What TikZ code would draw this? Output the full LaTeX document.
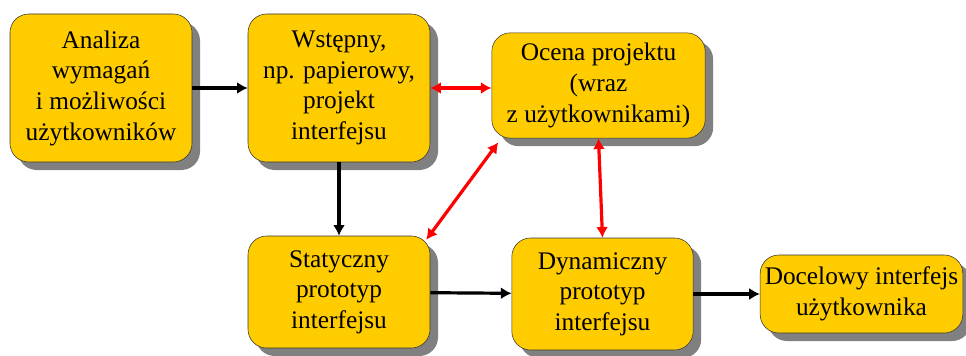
\documentclass[tikz,border=0pt]{standalone}
\usepackage{fontspec}
\setmainfont{Liberation Serif}
\newfontfamily\boxfont{Liberation Serif}
\usetikzlibrary{arrows.meta,shadows}
\definecolor{boxyellow}{RGB}{255,204,0}
\tikzset{
  box/.style={draw=black!80, fill=boxyellow, rounded corners=14pt, align=center,
    inner sep=0pt, font=\boxfont\fontsize{19}{23}\selectfont,
    drop shadow={shadow xshift=6pt, shadow yshift=-6pt, fill=black!50, opacity=1}},
  flow/.style={-{Latex[length=8pt,width=9pt]}, line width=2.4pt, black},
  talk/.style={{Latex[length=8pt,width=9pt]}-{Latex[length=8pt,width=9pt]}, line width=2.4pt, red},
}

\begin{document}
\begin{tikzpicture}[x=0.75pt,y=-0.75pt]
\useasboundingbox (0,0) rectangle (966,356);
\node[box, minimum width=136.5pt, minimum height=111pt] (B1) at (101,88)
  {Analiza\\wymagań\\i możliwości\\użytkowników};
\node[box, minimum width=136.5pt, minimum height=111pt] (B2) at (339,88)
  {Wstępny,\\np. papierowy,\\projekt\\interfejsu};
\node[box, minimum width=160pt, minimum height=79pt] (B3) at (598.5,85.5)
  {Ocena projektu\\(wraz\\z użytkownikami)};
\node[box, minimum width=136.5pt, minimum height=84pt] (B4) at (339,292)
  {Statyczny\\prototyp\\interfejsu};
\node[box, minimum width=136pt, minimum height=84pt] (B5) at (602.5,294)
  {Dynamiczny\\prototyp\\interfejsu};
\node[box, minimum width=152pt, minimum height=58.5pt] (B6) at (861.5,294)
  {Docelowy interfejs\\użytkownika};

\draw[flow] (B1) -- (B2);
\draw[flow] (B2) -- (B4);
\draw[flow] (B4) -- (B5);
\draw[flow] (B5) -- (B6);
\draw[talk] (B2.east) -- (B2.east -| B3.west);
\draw[talk] ([xshift=-3pt,yshift=-3pt]B4.north east) -- ([xshift=5pt,yshift=-3pt]B3.south west);
\draw[talk] (B3.south) -- (B5.north);
\end{tikzpicture}
\end{document}
